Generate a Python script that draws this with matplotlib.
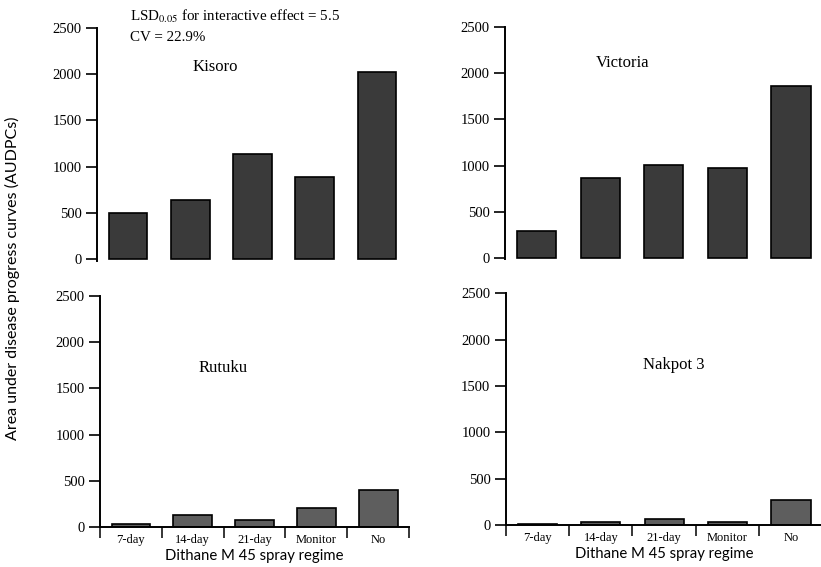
import numpy as np
import matplotlib
matplotlib.use("Agg")
import matplotlib.pyplot as plt
from matplotlib.ticker import FixedLocator, NullFormatter

plt.rcParams['font.family'] = 'Liberation Serif'
plt.rcParams['mathtext.fontset'] = 'stix'

regimes = ["7-day", "14-day", "21-day", "Monitor", "No"]
kisoro = [500, 640, 1140, 890, 2020]
victoria = [290, 870, 1010, 970, 1860]
rutuku = [30, 130, 80, 210, 400]
nakpot3 = [10, 30, 70, 30, 270]
yticks = [0, 500, 1000, 1500, 2000, 2500]

fig = plt.figure(figsize=(8.21, 5.67), dpi=100)

# axes rectangles in figure fraction (left, bottom, width, height)
panels = [
    ("Kisoro", kisoro, [0.118, 0.540, 0.379, 0.411], (0.38, 0.83), "top"),
    ("Victoria", victoria, [0.615, 0.543, 0.387, 0.409], (0.37, 0.845), "top"),
    ("Rutuku", rutuku, [0.1215, 0.0705, 0.377, 0.4075], (0.40, 0.69), "bottom"),
    ("Nakpot 3", nakpot3, [0.616, 0.074, 0.386, 0.409], (0.53, 0.69), "bottom"),
]

x = np.arange(len(regimes))
for name, vals, rect, tpos, row in panels:
    ax = fig.add_axes(rect)
    color = "#3a3a3a" if row == "top" else "#5e5e5e"
    ax.bar(x, vals, width=0.62, color=color, edgecolor="black", linewidth=1.2)
    ax.set_xlim(-0.5, 4.5)
    ax.set_ylim(0, 2500)
    ax.set_yticks(yticks)
    ax.set_yticklabels([str(v) for v in yticks], fontsize=10.5)
    ax.tick_params(axis="y", direction="out", length=8, width=1.2, pad=3)
    for s in ["top", "right"]:
        ax.spines[s].set_visible(False)
    ax.spines["left"].set_linewidth(1.4)
    if row == "top":
        ax.spines["bottom"].set_visible(False)
        ax.set_xticks([])
        ax.set_ylim(-15, 2500)
    else:
        ax.spines["bottom"].set_linewidth(1.4)
        ax.set_xticks(x)
        ax.set_xticklabels(regimes, fontsize=9)
        ax.tick_params(axis="x", which="major", length=0, pad=5)
        ax.xaxis.set_minor_locator(FixedLocator(np.arange(-0.5, 5, 1.0)))
        ax.xaxis.set_minor_formatter(NullFormatter())
        ax.tick_params(axis="x", which="minor", direction="out", length=8, width=1.1)
        ax.set_xlabel("Dithane M 45 spray regime", fontsize=10.7, family="Lato", labelpad=2)
    ax.text(tpos[0], tpos[1], name, transform=ax.transAxes, ha="center", va="center", fontsize=12)
    ax.patch.set_alpha(0)

fig.text(0.158, 0.971, r"LSD$_{0.05}$ for interactive effect = 5.5", fontsize=10.8, va="center")
fig.text(0.158, 0.934, "CV = 22.9%", fontsize=10.8, va="center")
fig.text(0.015, 0.51, "Area under disease progress curves (AUDPCs)", rotation=90,
         fontsize=11.5, family="Lato", ha="center", va="center")

fig.savefig("out.png", dpi=100)
